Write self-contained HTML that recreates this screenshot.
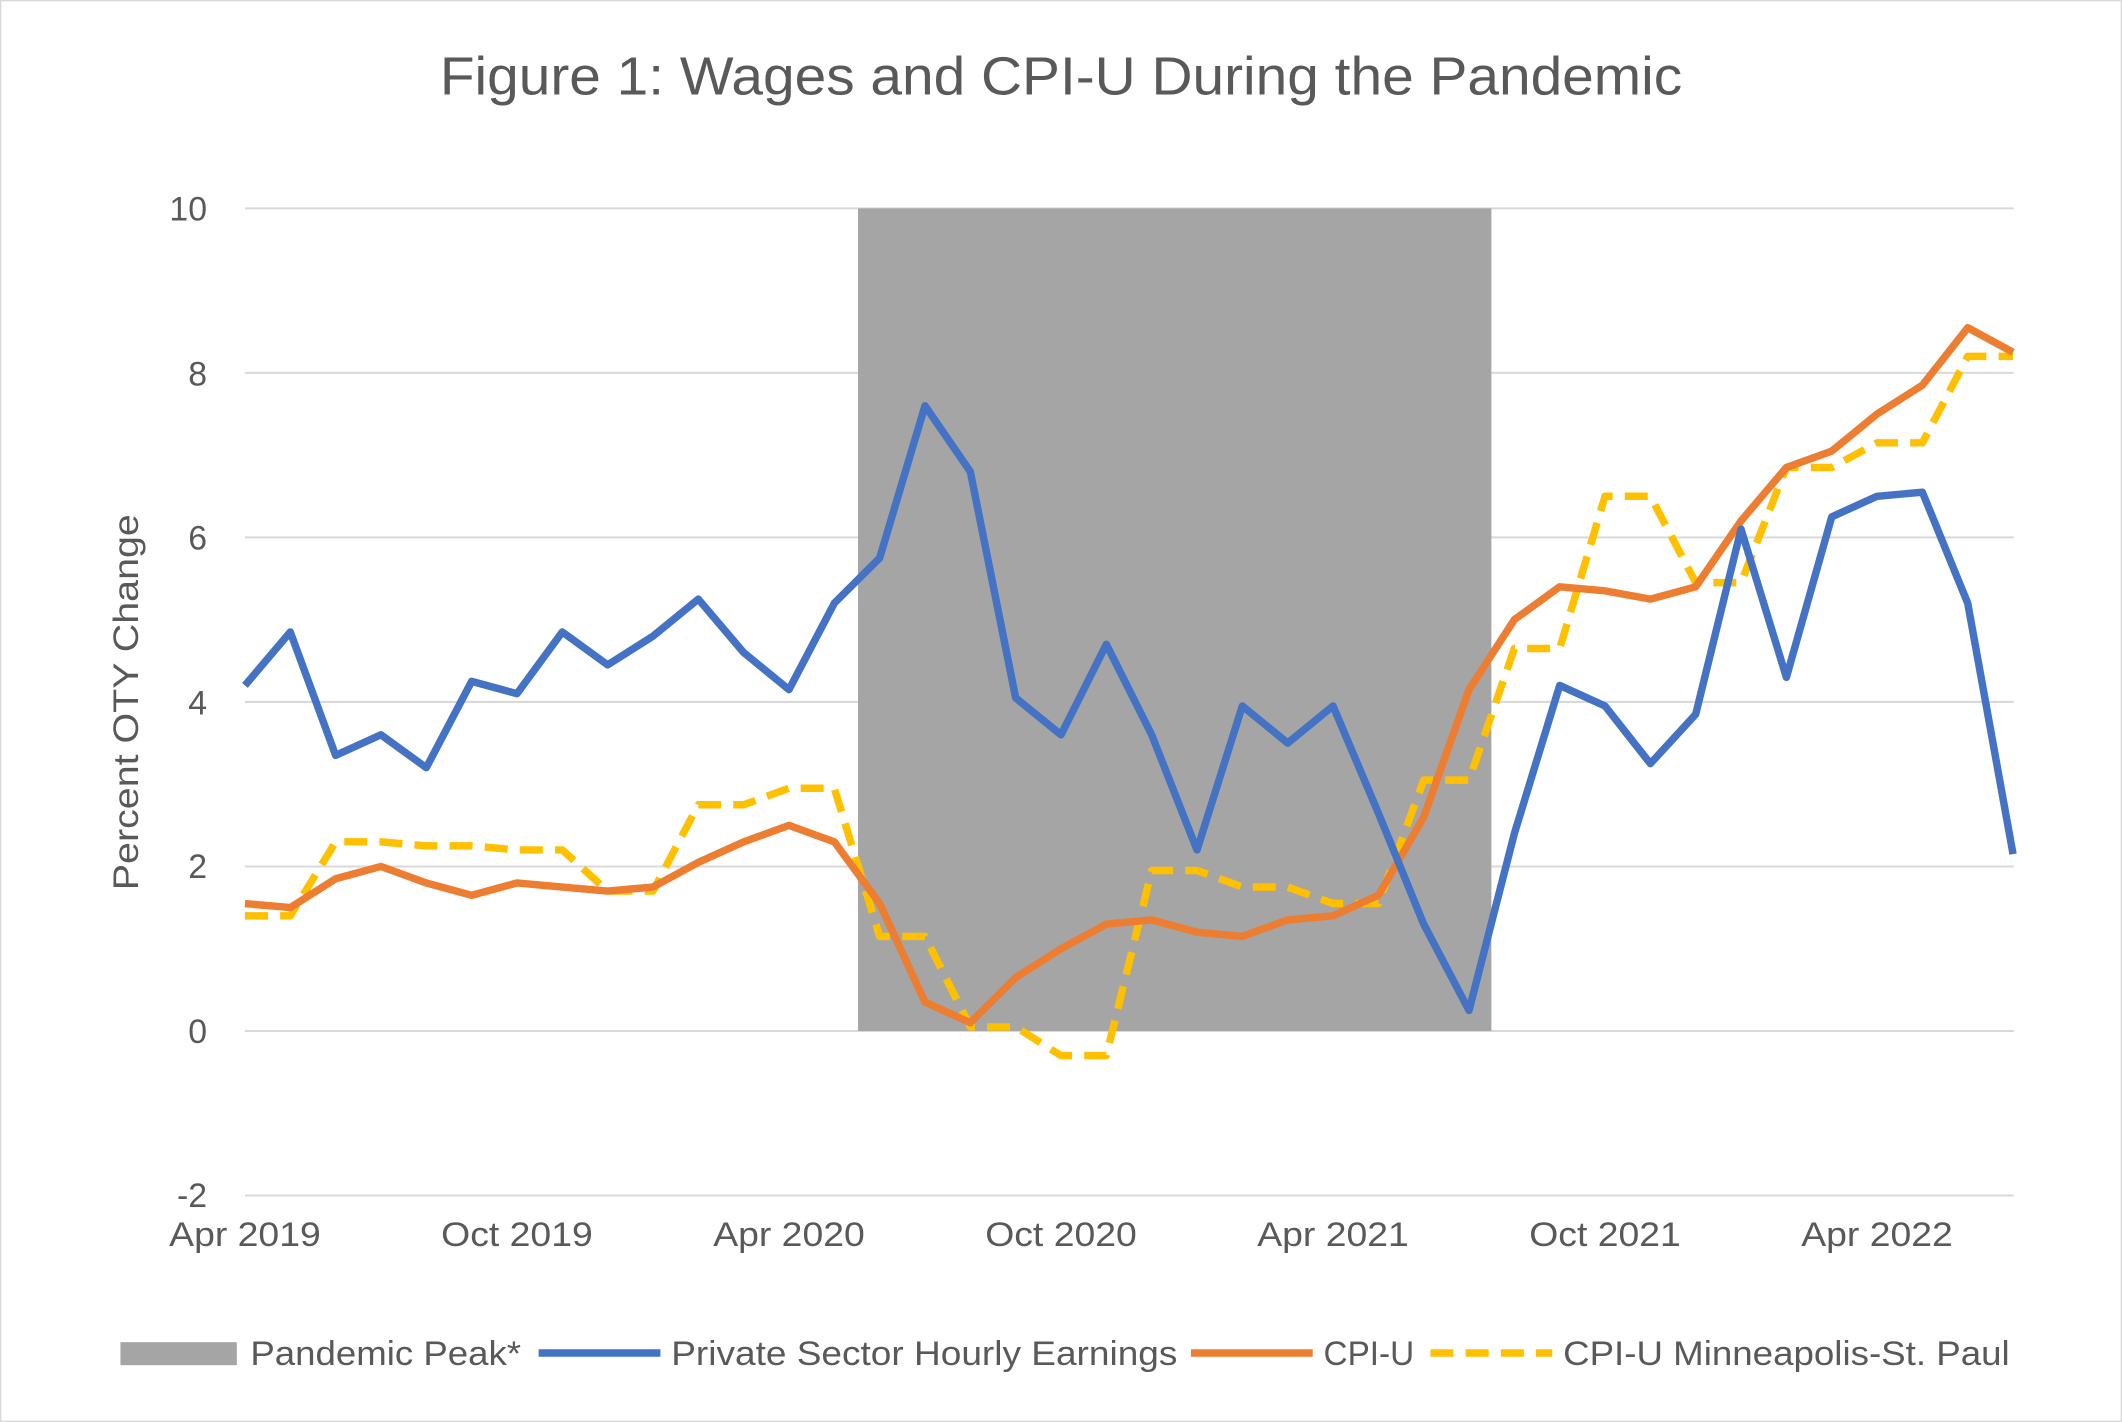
<!DOCTYPE html>
<html><head><meta charset="utf-8"><style>
html,body{margin:0;padding:0;background:#fff}
svg{display:block}
text{font-family:"Liberation Sans",sans-serif;fill:#595959}
</style></head><body>
<svg id="s" width="2122" height="1422" viewBox="0 0 1568 1051" preserveAspectRatio="none" xmlns="http://www.w3.org/2000/svg">
<rect x="0.5" y="0.5" width="1567" height="1050" fill="#fff" stroke="#d9d9d9"/>
<text x="325" y="70" font-size="40" textLength="918" lengthAdjust="spacingAndGlyphs">Figure 1: Wages and CPI-U During the Pandemic</text>
<g stroke="#d9d9d9" stroke-width="1.5">
<line x1="181" x2="1488" y1="154" y2="154"/><line x1="181" x2="1488" y1="275.6" y2="275.6"/>
<line x1="181" x2="1488" y1="397.2" y2="397.2"/><line x1="181" x2="1488" y1="518.8" y2="518.8"/>
<line x1="181" x2="1488" y1="640.4" y2="640.4"/><line x1="181" x2="1488" y1="762" y2="762"/>
<line x1="181" x2="1488" y1="883.6" y2="883.6"/>
</g>
<rect x="634" y="154" width="468" height="608" fill="#a5a5a5"/>
<g font-size="25" text-anchor="end">
<text x="153" y="163">10</text><text x="153" y="285">8</text><text x="153" y="406">6</text>
<text x="153" y="528">4</text><text x="153" y="649">2</text><text x="153" y="771">0</text><text x="153" y="892">-2</text>
</g>
<g font-size="25" text-anchor="middle">
<text x="181" y="921" textLength="112" lengthAdjust="spacingAndGlyphs">Apr 2019</text><text x="382" y="921" textLength="112" lengthAdjust="spacingAndGlyphs">Oct 2019</text><text x="583" y="921" textLength="112" lengthAdjust="spacingAndGlyphs">Apr 2020</text>
<text x="784" y="921" textLength="112" lengthAdjust="spacingAndGlyphs">Oct 2020</text><text x="985" y="921" textLength="112" lengthAdjust="spacingAndGlyphs">Apr 2021</text><text x="1186" y="921" textLength="112" lengthAdjust="spacingAndGlyphs">Oct 2021</text><text x="1387" y="921" textLength="112" lengthAdjust="spacingAndGlyphs">Apr 2022</text>
</g>
<text transform="translate(102,519) rotate(-90)" font-size="26" text-anchor="middle" textLength="278" lengthAdjust="spacingAndGlyphs">Percent OTY Change</text>
<g id="lines" fill="none" stroke-width="5.5" stroke-linejoin="round"></g>
<rect x="89" y="992" width="86" height="17" fill="#a5a5a5"/>
<text x="185" y="1009" font-size="25" textLength="200" lengthAdjust="spacingAndGlyphs">Pandemic Peak*</text>
<line x1="398" x2="488" y1="1000" y2="1000" stroke="#4472c4" stroke-width="5.5"/>
<text x="496" y="1009" font-size="25" textLength="374" lengthAdjust="spacingAndGlyphs">Private Sector Hourly Earnings</text>
<line x1="880" x2="970" y1="1000" y2="1000" stroke="#ed7d31" stroke-width="5.5"/>
<text x="978" y="1009" font-size="25" textLength="67" lengthAdjust="spacingAndGlyphs">CPI-U</text>
<line x1="1057" x2="1147" y1="1000" y2="1000" stroke="#ffc000" stroke-width="5.5" stroke-dasharray="17,9"/>
<text x="1155" y="1009" font-size="25" textLength="330" lengthAdjust="spacingAndGlyphs">CPI-U Minneapolis-St. Paul</text>
</svg>
<script>
var b=[4.2,4.85,3.35,3.6,3.2,4.25,4.1,4.85,4.45,4.8,5.25,4.6,4.15,5.2,5.75,7.6,6.8,4.05,3.6,4.7,3.6,2.2,3.95,3.5,3.95,2.65,1.3,0.25,2.4,4.2,3.95,3.25,3.85,6.1,4.3,6.25,6.5,6.55,5.2,2.15];
var o=[1.55,1.5,1.85,2.0,1.8,1.65,1.8,1.75,1.7,1.75,2.05,2.3,2.5,2.3,1.55,0.35,0.1,0.65,1.0,1.3,1.35,1.2,1.15,1.35,1.4,1.65,2.6,4.15,5.0,5.4,5.35,5.25,5.4,6.2,6.85,7.05,7.5,7.85,8.55,8.25];
var y=[1.4,1.4,2.3,2.3,2.25,2.25,2.2,2.2,1.7,1.7,2.75,2.75,2.95,2.95,1.15,1.15,0.05,0.05,-0.3,-0.3,1.95,1.95,1.75,1.75,1.55,1.55,3.05,3.05,4.65,4.65,6.5,6.5,5.45,5.45,6.85,6.85,7.15,7.15,8.2,8.2];
function pts(a){return a.map(function(v,i){return (181+i*33.5).toFixed(1)+","+(762-v*60.8).toFixed(1)}).join(" ")}
var g=document.getElementById("lines"),h="";
h+='<polyline points="'+pts(y)+'" stroke="#ffc000" stroke-dasharray="17,9"/>';
h+='<polyline points="'+pts(o)+'" stroke="#ed7d31"/>';
h+='<polyline points="'+pts(b)+'" stroke="#4472c4"/>';
g.innerHTML=h;
</script>
</body></html>
